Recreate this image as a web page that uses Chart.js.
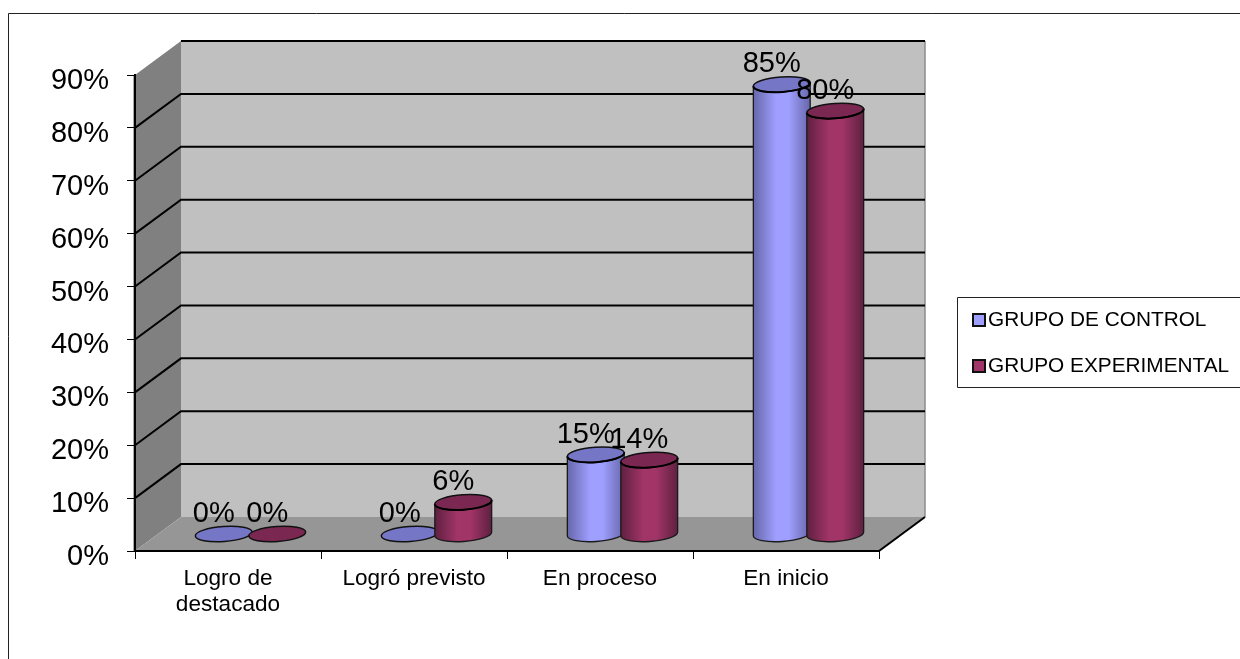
<!DOCTYPE html>
<html>
<head>
<meta charset="utf-8">
<title>Grupo de control y grupo experimental</title>
<script src="https://cdn.jsdelivr.net/npm/chart.js@4"></script>
<style>
  body { margin: 0; background: #fff; }
  canvas { display: block; }
</style>
</head>
<body>
<canvas id="chart" width="1240" height="659"></canvas>
<script>
const categories = [["Logro de", "destacado"], "Logró previsto", "En proceso", "En inicio"];
const controlValues = [0, 0, 15, 85];
const experimentalValues = [0, 6, 14, 80];
const seriesNames = ["GRUPO DE CONTROL", "GRUPO EXPERIMENTAL"];

const FONT = '"Liberation Sans", Arial, sans-serif';
const DEPTH_X = 46, DEPTH_Y = -34; // 3d depth of the box
const looks = [
  { light: "#9f9fff", dark: "#6666aa", top: "#7676c6" },
  { light: "#a23568", dark: "#5e2040", top: "#7a2852" }
];

// walls, floor and grid lines of the 3d box
const box3d = {
  id: "box3d",
  beforeDraw(chart) {
    const c = chart.ctx, y = chart.scales.y, a = chart.chartArea;
    const dx = DEPTH_X, dy = DEPTH_Y;
    c.save();
    // outer frame, it runs off the page on the right and bottom
    c.strokeStyle = "#222";
    c.lineWidth = 1;
    c.beginPath();
    c.moveTo(8.5, 659); c.lineTo(8.5, 13.5); c.lineTo(1240, 13.5);
    c.stroke();

    c.fillStyle = "#c0c0c0";
    c.fillRect(a.left + dx, a.top + dy, a.width, a.height);
    c.fillStyle = "#808080";
    c.beginPath();
    c.moveTo(a.left, a.top); c.lineTo(a.left + dx, a.top + dy);
    c.lineTo(a.left + dx, a.bottom + dy); c.lineTo(a.left, a.bottom);
    c.closePath(); c.fill();
    c.fillStyle = "#969696";
    c.beginPath();
    c.moveTo(a.left, a.bottom); c.lineTo(a.left + dx, a.bottom + dy);
    c.lineTo(a.right + dx, a.bottom + dy); c.lineTo(a.right, a.bottom);
    c.closePath(); c.fill();
    // thin edge at right of back wall
    c.strokeStyle = "#8c8c8c";
    c.lineWidth = 1.5;
    c.beginPath();
    c.moveTo(a.right + dx, a.top + dy); c.lineTo(a.right + dx, a.bottom + dy);
    c.stroke();
    // grey halo beside the front axis
    c.strokeStyle = "#aaa";
    c.lineWidth = 1;
    c.beginPath();
    c.moveTo(a.left - 1.5, a.top); c.lineTo(a.left - 1.5, a.bottom);
    c.stroke();

    c.strokeStyle = "#000";
    c.lineWidth = 2;
    y.ticks.forEach(t => {
      if (t.value === 0) return;
      const py = y.getPixelForValue(t.value);
      c.beginPath();
      // the top line has no diagonal on the side wall
      if (t.value === y.max) c.moveTo(a.left + dx, py + dy);
      else { c.moveTo(a.left, py); c.lineTo(a.left + dx, py + dy); }
      c.lineTo(a.right + dx, py + dy);
      c.stroke();
    });
    // front right edge of the floor
    c.beginPath();
    c.moveTo(a.right, a.bottom); c.lineTo(a.right + dx, a.bottom + dy);
    c.stroke();
    c.restore();
  }
};

function drawCylinder(c, cx, topY, baseY, rx, look) {
  const ry = 7.5, rot = -0.07;
  if (baseY - topY > 0.5) {
    const g = c.createLinearGradient(cx - rx, 0, cx + rx, 0);
    g.addColorStop(0, look.dark);
    g.addColorStop(0.4, look.light);
    g.addColorStop(0.62, look.light);
    g.addColorStop(1, look.dark);
    const ex = rx * Math.cos(rot), ey = rx * Math.sin(rot);
    c.beginPath();
    c.moveTo(cx + ex, topY + ey);
    c.lineTo(cx + ex, baseY + ey);
    c.ellipse(cx, baseY, rx, ry, rot, 0, Math.PI);
    c.lineTo(cx - ex, topY - ey);
    c.closePath();
    c.fillStyle = g;
    c.fill();
    c.strokeStyle = "#1a1a1a";
    c.lineWidth = 1.3;
    c.stroke();
  }
  c.beginPath();
  c.ellipse(cx, topY, rx, ry, rot, 0, Math.PI * 2);
  c.fillStyle = look.top;
  c.fill();
  c.strokeStyle = "#111";
  c.lineWidth = 1.5;
  c.stroke();
  if (baseY - topY > 0.5) {
    c.beginPath();
    c.ellipse(cx, topY, rx, ry, rot, 0, Math.PI);
    c.strokeStyle = "#000";
    c.lineWidth = 2;
    c.stroke();
  }
}

// cylinders on the bar elements, then the value labels and legend
const cylinders = {
  id: "cylinders",
  afterDatasetsDraw(chart) {
    const c = chart.ctx, y = chart.scales.y;
    const shiftX = 22.5, shiftY = -17;
    c.save();
    chart.data.datasets.forEach((ds, i) => {
      chart.getDatasetMeta(i).data.forEach(bar => {
        drawCylinder(c, bar.x + shiftX, bar.y + shiftY, y.getPixelForValue(0) + shiftY, bar.width / 2 + 1.75, looks[i]);
      });
    });
    c.fillStyle = "#000";
    c.font = "29px " + FONT;
    c.textAlign = "center";
    c.textBaseline = "middle";
    chart.data.datasets.forEach((ds, i) => {
      chart.getDatasetMeta(i).data.forEach((bar, j) => {
        c.fillText(ds.data[j] + "%", bar.x + shiftX - 10, bar.y + shiftY - 20);
      });
    });

    // legend box
    c.fillStyle = "#fff";
    c.strokeStyle = "#222";
    c.lineWidth = 1;
    c.beginPath();
    c.moveTo(1240, 297.5); c.lineTo(957.5, 297.5); c.lineTo(957.5, 387.5); c.lineTo(1240, 387.5);
    c.stroke();
    c.font = "20.8px " + FONT;
    c.textAlign = "left";
    seriesNames.forEach((name, i) => {
      const ly = 320 + i * 46;
      c.fillStyle = looks[i].light;
      c.fillRect(973, ly - 6, 12, 12);
      c.strokeStyle = "#111";
      c.lineWidth = 2;
      c.strokeRect(973, ly - 6, 12, 12);
      c.fillStyle = "#000";
      c.fillText(name, 988, ly);
    });
    c.restore();
  }
};

new Chart(document.getElementById("chart"), {
  type: "bar",
  data: {
    labels: categories,
    datasets: [
      { label: seriesNames[0], data: controlValues, backgroundColor: "transparent" },
      { label: seriesNames[1], data: experimentalValues, backgroundColor: "transparent" }
    ]
  },
  options: {
    responsive: false,
    animation: false,
    layout: { padding: { left: 0, top: 75, right: 361, bottom: 0 } },
    datasets: { bar: { barPercentage: 1, categoryPercentage: 0.575 } },
    plugins: { legend: { display: false }, tooltip: { enabled: false } },
    scales: {
      x: {
        afterFit(s) { s.height = 108; },
        border: { color: "#000", width: 2 },
        grid: { drawOnChartArea: false, color: "#000", tickLength: 8, tickWidth: 1 },
        ticks: { color: "#000", padding: 7, maxRotation: 0, font: { family: FONT, size: 22.6, lineHeight: 1.13 } }
      },
      y: {
        min: 0,
        max: 90,
        afterFit(s) { s.width = 135; },
        border: { color: "#000", width: 2 },
        grid: { drawOnChartArea: false, color: "#000", tickLength: 8, tickWidth: 1 },
        ticks: {
          stepSize: 10,
          color: "#000",
          padding: 18,
          labelOffset: 6,
          font: { family: FONT, size: 29 },
          callback: v => v + "%"
        }
      }
    }
  },
  plugins: [box3d, cylinders]
});
</script>
</body>
</html>
